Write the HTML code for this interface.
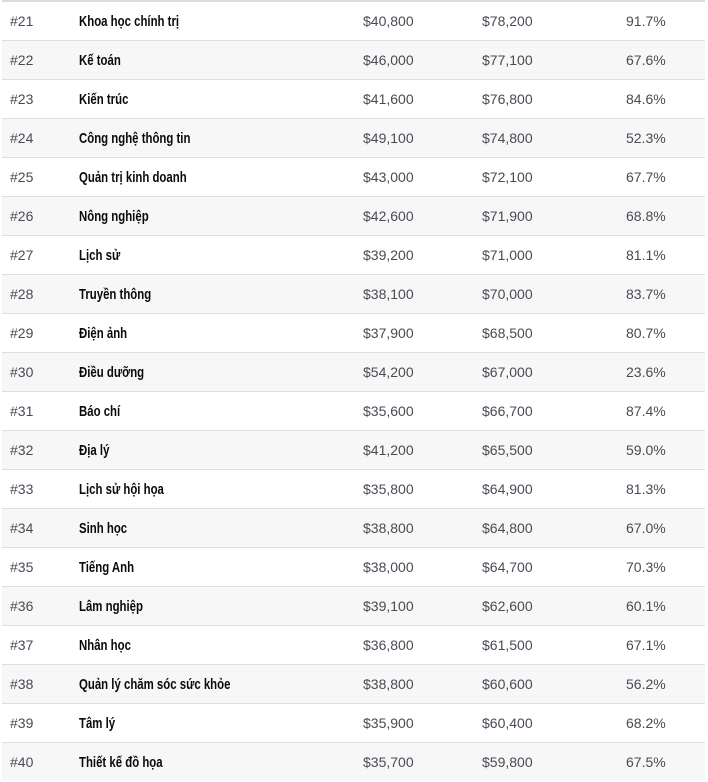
<!DOCTYPE html>
<html><head><meta charset="utf-8">
<style>
html,body{margin:0;padding:0;background:#fff;}
body{width:708px;height:780px;position:relative;overflow:hidden;font-family:"Liberation Sans",sans-serif;}
.top{position:absolute;left:2px;top:0;width:703px;height:2px;background:#dcdcdc;}
.row{position:absolute;left:2px;width:703px;height:38px;border-bottom:1px solid #dedede;}
.row.g{background:#f7f7f7;}
.c{position:absolute;top:0;line-height:38px;font-size:14px;color:#4a4a55;white-space:nowrap;}
.n{left:8px;}
.nm{left:77px;top:1px;font-size:15px;font-weight:bold;color:#0a0a0a;transform:scaleX(0.76);transform-origin:left center;}
.a{left:361px;}
.b{left:480px;}
.p{left:624px;}
</style></head><body>
<div class="top"></div>
<div class="row" style="top:2px"><span class="c n">#21</span><span class="c nm">Khoa học chính trị</span><span class="c a">$40,800</span><span class="c b">$78,200</span><span class="c p">91.7%</span></div>
<div class="row g" style="top:41px"><span class="c n">#22</span><span class="c nm">Kế toán</span><span class="c a">$46,000</span><span class="c b">$77,100</span><span class="c p">67.6%</span></div>
<div class="row" style="top:80px"><span class="c n">#23</span><span class="c nm">Kiến trúc</span><span class="c a">$41,600</span><span class="c b">$76,800</span><span class="c p">84.6%</span></div>
<div class="row g" style="top:119px"><span class="c n">#24</span><span class="c nm">Công nghệ thông tin</span><span class="c a">$49,100</span><span class="c b">$74,800</span><span class="c p">52.3%</span></div>
<div class="row" style="top:158px"><span class="c n">#25</span><span class="c nm">Quản trị kinh doanh</span><span class="c a">$43,000</span><span class="c b">$72,100</span><span class="c p">67.7%</span></div>
<div class="row g" style="top:197px"><span class="c n">#26</span><span class="c nm">Nông nghiệp</span><span class="c a">$42,600</span><span class="c b">$71,900</span><span class="c p">68.8%</span></div>
<div class="row" style="top:236px"><span class="c n">#27</span><span class="c nm">Lịch sử</span><span class="c a">$39,200</span><span class="c b">$71,000</span><span class="c p">81.1%</span></div>
<div class="row g" style="top:275px"><span class="c n">#28</span><span class="c nm">Truyền thông</span><span class="c a">$38,100</span><span class="c b">$70,000</span><span class="c p">83.7%</span></div>
<div class="row" style="top:314px"><span class="c n">#29</span><span class="c nm">Điện ảnh</span><span class="c a">$37,900</span><span class="c b">$68,500</span><span class="c p">80.7%</span></div>
<div class="row g" style="top:353px"><span class="c n">#30</span><span class="c nm">Điều dưỡng</span><span class="c a">$54,200</span><span class="c b">$67,000</span><span class="c p">23.6%</span></div>
<div class="row" style="top:392px"><span class="c n">#31</span><span class="c nm">Báo chí</span><span class="c a">$35,600</span><span class="c b">$66,700</span><span class="c p">87.4%</span></div>
<div class="row g" style="top:431px"><span class="c n">#32</span><span class="c nm">Địa lý</span><span class="c a">$41,200</span><span class="c b">$65,500</span><span class="c p">59.0%</span></div>
<div class="row" style="top:470px"><span class="c n">#33</span><span class="c nm">Lịch sử hội họa</span><span class="c a">$35,800</span><span class="c b">$64,900</span><span class="c p">81.3%</span></div>
<div class="row g" style="top:509px"><span class="c n">#34</span><span class="c nm">Sinh học</span><span class="c a">$38,800</span><span class="c b">$64,800</span><span class="c p">67.0%</span></div>
<div class="row" style="top:548px"><span class="c n">#35</span><span class="c nm">Tiếng Anh</span><span class="c a">$38,000</span><span class="c b">$64,700</span><span class="c p">70.3%</span></div>
<div class="row g" style="top:587px"><span class="c n">#36</span><span class="c nm">Lâm nghiệp</span><span class="c a">$39,100</span><span class="c b">$62,600</span><span class="c p">60.1%</span></div>
<div class="row" style="top:626px"><span class="c n">#37</span><span class="c nm">Nhân học</span><span class="c a">$36,800</span><span class="c b">$61,500</span><span class="c p">67.1%</span></div>
<div class="row g" style="top:665px"><span class="c n">#38</span><span class="c nm">Quản lý chăm sóc sức khỏe</span><span class="c a">$38,800</span><span class="c b">$60,600</span><span class="c p">56.2%</span></div>
<div class="row" style="top:704px"><span class="c n">#39</span><span class="c nm">Tâm lý</span><span class="c a">$35,900</span><span class="c b">$60,400</span><span class="c p">68.2%</span></div>
<div class="row g" style="top:743px;border-bottom:none;height:37px"><span class="c n">#40</span><span class="c nm">Thiết kế đồ họa</span><span class="c a">$35,700</span><span class="c b">$59,800</span><span class="c p">67.5%</span></div>
</body></html>
